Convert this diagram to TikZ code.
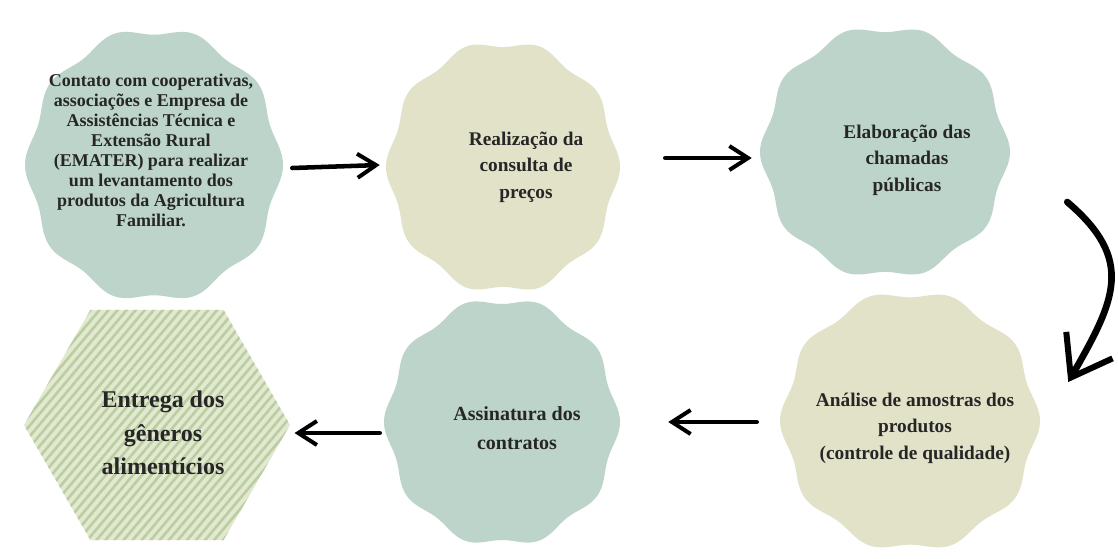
\documentclass[tikz,border=0pt]{standalone}
\usepackage{fontspec}
\setmainfont{Liberation Serif}
\usetikzlibrary{positioning,calc,shapes.geometric,arrows.meta,patterns.meta}
\definecolor{blobteal}{RGB}{188,212,202}
\definecolor{blobsand}{RGB}{226,226,201}
\definecolor{hexbg}{RGB}{226,233,208}
\definecolor{hexline}{RGB}{186,206,162}
\tikzset{
  blob/.style={ellipse, inner sep=0pt},
  txt/.style={align=center, text=black!85},
  handarrow/.style={line width=3.4pt, line cap=round,
    -{Straight Barb[length=14pt,width=18pt,line width=3pt]}},
}

\begin{document}
\begin{tikzpicture}[x=0.75pt,y=-0.75pt]
  \useasboundingbox[fill=white] (0,0) rectangle (1118,558);
  % wavy blobs
  \foreach \nm/\cx/\cy/\rx/\ry/\col in {s1/154/165/129/138/blobteal,
      s2/503/167/117/127/blobsand, s3/885/152/125/127/blobteal,
      s4/910/421/130/131/blobsand, s5/502/422/118/125/blobteal}{
    \fill[\col] plot[domain=0:360, samples=181, variable=\t]
      ({\cx+\rx*(0.972+0.028*cos(10*\t))*cos(\t)}, {\cy+\ry*(0.972+0.028*cos(10*\t))*sin(\t)}) -- cycle;
    \node[blob, minimum width=1.5pt*\rx, minimum height=1.5pt*\ry] (\nm) at (\cx,\cy) {};
  }
  \node[regular polygon, regular polygon sides=6, minimum size=199.5pt, inner sep=0pt,
    preaction={fill=hexbg}, pattern={Lines[angle=50,distance=5.2pt,line width=2pt]},
    pattern color=hexline] (entrega) at (157,425) {};

  \node[txt, font=\bfseries\fontsize{13.5}{15}\selectfont] (contato) at ($(s1)+(-3,-15)$)
    {Contato com cooperativas,\\associações e Empresa de\\Assistências Técnica e\\Extensão Rural\\(EMATER) para realizar\\um levantamento dos\\produtos da Agricultura\\Familiar.};
  \node[txt, font=\bfseries\fontsize{14.5}{20}\selectfont] (consulta) at ($(s2)+(23,0)$)
    {Realização da\\consulta de\\preços};
  \node[txt, font=\bfseries\fontsize{14.5}{20}\selectfont] (chamadas) at ($(s3)+(22,8)$)
    {Elaboração das\\chamadas\\públicas};
  \node[txt, font=\bfseries\fontsize{14.5}{20}\selectfont] (amostras) at ($(s4)+(5,7)$)
    {Análise de amostras dos\\produtos\\(controle de qualidade)};
  \node[txt, font=\bfseries\fontsize{15}{22}\selectfont] (contratos) at ($(s5)+(15,6)$)
    {Assinatura dos\\contratos};
  \node[txt, font=\bfseries\fontsize{18}{25}\selectfont] (entregatxt) at ($(entrega)+(6,8)$)
    {Entrega dos\\gêneros\\alimentícios};

  \draw[handarrow] ([shift={(9,3)}]s1.east) -- ([shift={(-6,-2)}]s2.west);
  \draw[handarrow] ([shift={(45,-9)}]s2.east) -- ([shift={(-8,6)}]s3.west);
  \draw[line width=5pt, line cap=round,
    -{Straight Barb[length=28pt,width=40pt,line width=4.5pt]}]
    ([shift={(57,50)}]s3.east) .. controls +(68,58) and +(47,-82) .. ([shift={(28,-39)}]s4.east);
  \draw[handarrow] ([shift={(-23,1)}]s4.west) -- ([shift={(48,0)}]s5.east);
  \draw[handarrow] ([shift={(-4,11)}]s5.west) -- ([shift={(3,8)}]entrega.east);
\end{tikzpicture}
\end{document}
